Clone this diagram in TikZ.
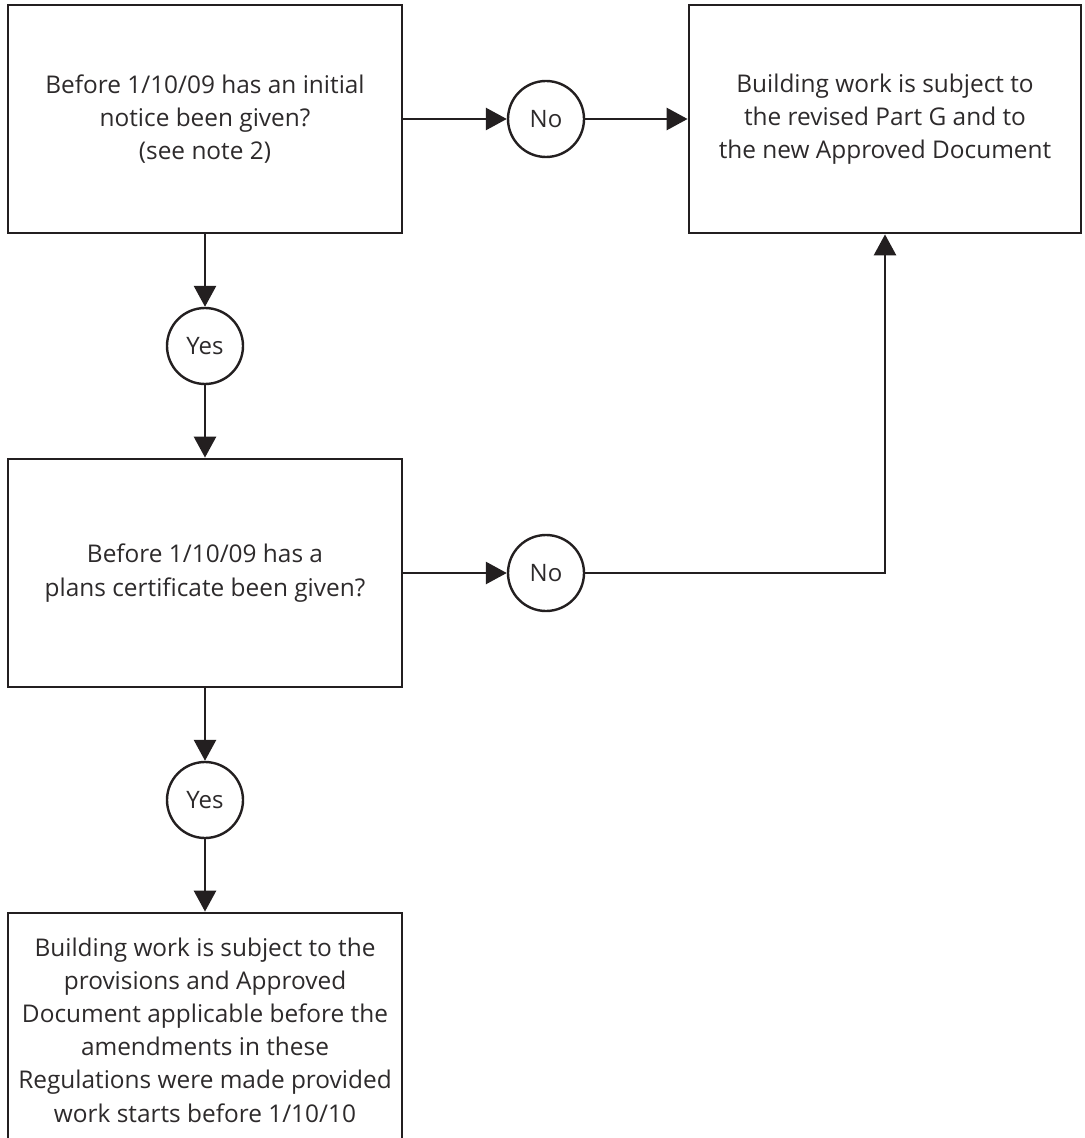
\documentclass[tikz,border=0pt]{standalone}
\usepackage{fontspec}
\setmainfont{Open Sans}
\usepackage{xcolor}
\usetikzlibrary{positioning,arrows.meta}
\definecolor{inkline}{RGB}{35,31,32}
\definecolor{inktext}{RGB}{45,42,43}
\tikzset{
  box/.style ={rectangle, draw=inkline, line width=1.4pt, align=center, text=inktext,
               minimum width=197pt, minimum height=114pt, font=\fontsize{12.2}{16.6}\selectfont},
  ans/.style ={circle, draw=inkline, line width=1.2pt, minimum size=38pt, inner sep=0pt,
               text=inktext, font=\fontsize{12}{13}\selectfont},
  flow/.style={-{Triangle[length=10.5pt,width=11pt]}, draw=inkline, line width=1.4pt},
}
\begin{document}
\begin{tikzpicture}[x=0.5pt,y=-0.5pt]
\clip (0,0) rectangle (1084,1138);
% --- questions ---
\node[box] (qnotice) at (205,119) {Before 1/10/09 has an initial\\notice been given?\\(see note 2)};
\node[box] (qplans)  at (205,573) {Before 1/10/09 has a\\plans certificate been given?};
% --- answers ---
\node[ans] (nonotice) at (546,119) {No};
\node[ans] (yesnotice) at (205,346) {Yes};
\node[ans] (noplans)  at (546,573) {No};
\node[ans] (yesplans) at (205,800) {Yes};
% --- outcomes ---
\node[box, minimum width=196pt] (revised) at (885,119) {Building work is subject to\\the revised Part G and to\\the new Approved Document};
\node[box, minimum height=117pt] (oldrules) at (205,1030) {Building work is subject to the\\provisions and Approved\\Document applicable before the\\amendments in these\\Regulations were made provided\\work starts before 1/10/10};
% arrows
\draw[flow] (qnotice.east) -- (nonotice.west);
\draw[flow] (nonotice.east) -- (revised.west);
\draw[flow] (qnotice.south) -- (yesnotice.north);
\draw[flow] (yesnotice.south) -- (qplans.north);
\draw[flow] (qplans.east) -- (noplans.west);
\draw[flow] (noplans.east) -| (revised.south);
\draw[flow] (qplans.south) -- (yesplans.north);
\draw[flow] (yesplans.south) -- (oldrules.north);
\end{tikzpicture}
\end{document}
